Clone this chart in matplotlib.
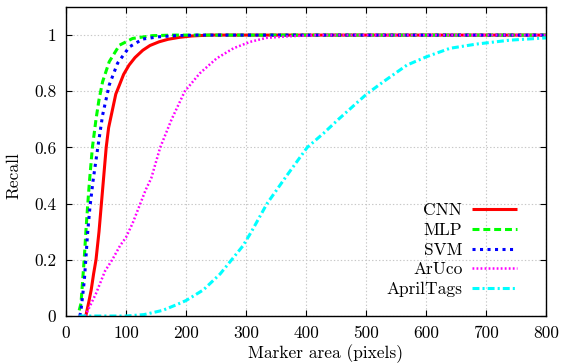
import matplotlib
matplotlib.use("Agg")
import matplotlib.pyplot as plt

plt.rcParams['font.family'] = ['cmr10', 'DejaVu Serif']
plt.rcParams['axes.formatter.use_mathtext'] = True
plt.rcParams['lines.scale_dashes'] = False

cnn_x = [33, 38, 42, 46, 50, 55, 59, 63, 67, 71, 78, 83, 89, 96, 105, 115, 128, 140, 155, 170, 189, 210, 240, 800]
cnn_y = [0.0, 0.05, 0.093, 0.15, 0.2, 0.3, 0.4, 0.5, 0.6, 0.67, 0.74, 0.79, 0.822, 0.86, 0.893, 0.92, 0.946, 0.963, 0.976, 0.985, 0.992, 0.997, 1.0, 1.0]

mlp_x = [22, 25, 27.8, 30.6, 33.3, 36, 39, 44, 50, 55, 61, 72, 89, 111, 144, 180, 800]
mlp_y = [0.02, 0.045, 0.128, 0.21, 0.306, 0.39, 0.477, 0.6, 0.7, 0.77, 0.834, 0.905, 0.964, 0.988, 0.998, 1.0, 1.0]

svm_x = [23, 25, 30.6, 33.3, 36, 40, 45, 53, 61, 72, 86, 105.6, 128, 155, 183, 220, 800]
svm_y = [0.0, 0.02, 0.128, 0.21, 0.295, 0.39, 0.48, 0.6, 0.715, 0.822, 0.9, 0.958, 0.986, 0.994, 0.998, 1.0, 1.0]

aruco_x = [32, 50, 65, 77, 90, 100, 111, 122, 133, 142, 157, 176, 198, 223, 251, 279, 307, 334, 373, 420, 800]
aruco_y = [0.0, 0.08, 0.16, 0.2, 0.25, 0.28, 0.33, 0.39, 0.45, 0.49, 0.6, 0.7, 0.8, 0.864, 0.917, 0.953, 0.976, 0.99, 0.996, 1.0, 1.0]

april_x = [22, 60, 100, 130, 161, 184, 200, 229, 257, 295, 309, 335, 368, 402, 429, 454, 501, 529, 568, 601, 640, 684, 740, 800]
april_y = [0.0, 0.0, 0.0, 0.005, 0.02, 0.04, 0.055, 0.093, 0.15, 0.25, 0.30, 0.40, 0.50, 0.60, 0.65, 0.70, 0.79, 0.834, 0.893, 0.923, 0.953, 0.968, 0.982, 0.99]

labels = ['CNN', 'MLP', 'SVM', 'ArUco', 'AprilTags']
xticks = [0, 100, 200, 300, 400, 500, 600, 700, 800]
yticks = [0, 0.2, 0.4, 0.6, 0.8, 1.0]
ytick_labels = ['0', '0.2', '0.4', '0.6', '0.8', '1']

fig = plt.figure(figsize=(5.62, 3.64), dpi=100)
ax = fig.add_axes([66/562, 1-316/364, 480/562, 309/364])

lw = 2.2
ax.plot(cnn_x, cnn_y, color='#ff0000', lw=lw, label=labels[0], solid_capstyle='butt')
ax.plot(mlp_x, mlp_y, color='#00ff00', lw=lw, label=labels[1], dashes=[5, 2.8], dash_capstyle='butt')
ax.plot(svm_x, svm_y, color='#0000ff', lw=lw, label=labels[2], dashes=[2.2, 3.2], dash_capstyle='butt')
ax.plot(aruco_x, aruco_y, color='#ff00ff', lw=1.8, label=labels[3], dashes=[1.3, 1.6], dash_capstyle='butt')
ax.plot(april_x, april_y, color='#00ffff', lw=lw, label=labels[4], dashes=[5, 2.2, 1.5, 2.2], dash_capstyle='butt')

ax.set_xlim(0, 800)
ax.set_ylim(0, 1.1)
ax.set_xticks(xticks)
ax.set_xticklabels([str(t) for t in xticks])
ax.set_yticks(yticks)
ax.set_yticklabels(ytick_labels)
ax.grid(True, color='#c8c8c8', linestyle=(0, (1, 1.5)), lw=0.8)
ax.tick_params(direction='in', top=True, right=True, length=4, width=0.8, labelsize=12.5, pad=7)
for s in ax.spines.values():
    s.set_linewidth(1.0)

ax.set_xlabel('Marker area (pixels)', fontsize=12.5)
ax.set_ylabel('Recall', fontsize=12.5)
ax.xaxis.set_label_coords(0.54, -0.093)
ax.yaxis.set_label_coords(-0.092, 0.453)

leg = ax.legend(loc='lower right', bbox_to_anchor=(0.9396, 0.061), frameon=False, markerfirst=False,
                fontsize=12.5, handlelength=2.6, handletextpad=0.55, labelspacing=0.25,
                borderpad=0, borderaxespad=0)
for t in leg.get_texts():
    t.set_ha('right')

fig.savefig('out.png', dpi=100)
